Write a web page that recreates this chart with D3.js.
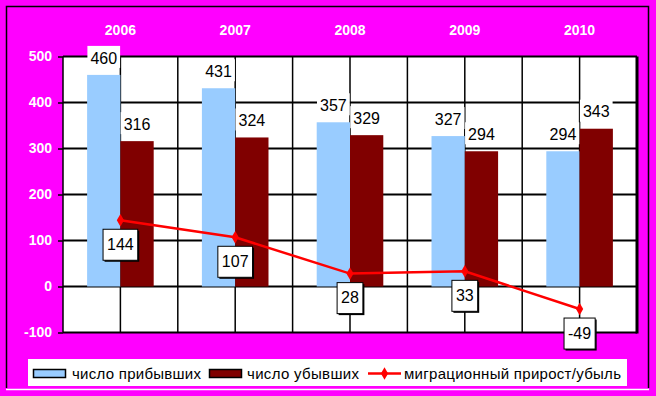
<!DOCTYPE html>
<html>
<head>
<meta charset="utf-8">
<script src="https://cdn.jsdelivr.net/npm/d3@7"></script>
<style>
  body { margin: 0; background: #ff00ff; }
  text { font-family: Arial, "Liberation Sans", sans-serif; }
</style>
</head>
<body>
<div id="chart"></div>
<script>
// chart data
var years = ["2006", "2007", "2008", "2009", "2010"];
var arrived = [460, 431, 357, 327, 294];
var departed = [316, 324, 329, 294, 343];
var netMigration = [144, 107, 28, 33, -49];
var yTicks = [-100, 0, 100, 200, 300, 400, 500];
var legendLabels = ["число прибывших", "число убывших", "миграционный прирост/убыль"];

var width = 656, height = 396;
var plot = { left: 63, right: 637, top: 56.5, bottom: 332.5 };

var svg = d3.select("#chart").append("svg")
    .attr("width", width)
    .attr("height", height);

svg.append("rect")
    .attr("width", width).attr("height", height)
    .attr("fill", "#ff00ff");

// outer frame (black on three sides, white bottom)
svg.append("path")
    .attr("d", "M6.5,388 L6.5,6.5 L648.5,6.5 L648.5,388")
    .attr("fill", "none").attr("stroke", "#000").attr("stroke-width", 1.5);
svg.append("line")
    .attr("x1", 6).attr("x2", 649).attr("y1", 389.5).attr("y2", 389.5)
    .attr("stroke", "#fff").attr("stroke-width", 1.5);

var x = d3.scaleBand().domain(years).range([plot.left, plot.right]);
var y = d3.scaleLinear().domain([-100, 500]).range([plot.bottom, plot.top]);
var bw = x.bandwidth() * 0.29;
var cx = function (yr) { return x(yr) + x.bandwidth() / 2; };

// plot area
svg.append("rect")
    .attr("x", plot.left).attr("y", plot.top)
    .attr("width", plot.right - plot.left).attr("height", plot.bottom - plot.top)
    .attr("fill", "#fff");

// vertical grid: category edges and centers
var vLines = [];
years.forEach(function (yr) { vLines.push(x(yr)); vLines.push(cx(yr)); });
svg.selectAll(".vgrid").data(vLines).enter().append("line")
    .attr("x1", function (d) { return d; }).attr("x2", function (d) { return d; })
    .attr("y1", plot.top).attr("y2", plot.bottom)
    .attr("stroke", "#000").attr("stroke-width", 1.5);

svg.selectAll(".hgrid").data(yTicks).enter().append("line")
    .attr("x1", plot.left).attr("x2", plot.right)
    .attr("y1", function (d) { return y(d); }).attr("y2", function (d) { return y(d); })
    .attr("stroke", "#000").attr("stroke-width", 2);

svg.append("line")
    .attr("x1", plot.right).attr("x2", plot.right)
    .attr("y1", plot.top).attr("y2", plot.bottom + 1)
    .attr("stroke", "#000").attr("stroke-width", 3);

// y axis
var yAxis = svg.append("g")
    .attr("transform", "translate(" + plot.left + ",0)")
    .call(d3.axisLeft(y).tickValues(yTicks).tickSize(5).tickPadding(6)
        .tickFormat(function (d) { return String(d); }));
yAxis.select(".domain").remove();
yAxis.selectAll(".tick line").attr("stroke", "#000").attr("stroke-width", 1.5);
yAxis.selectAll(".tick text")
    .attr("fill", "#fff").attr("font-size", 14).attr("font-weight", "bold")
    .attr("font-family", "Arial, 'Liberation Sans', sans-serif");

// year labels on top
svg.selectAll(".year").data(years).enter().append("text")
    .attr("x", function (d) { return cx(d); })
    .attr("y", 35)
    .attr("text-anchor", "middle")
    .attr("font-size", 14).attr("font-weight", "bold")
    .attr("fill", "#fff")
    .text(function (d) { return d; });

// bars
svg.selectAll(".barA").data(arrived).enter().append("rect")
    .attr("x", function (d, i) { return cx(years[i]) - bw; })
    .attr("y", function (d) { return y(d); })
    .attr("width", bw)
    .attr("height", function (d) { return y(0) - y(d); })
    .attr("fill", "#99ccff");

svg.selectAll(".barD").data(departed).enter().append("rect")
    .attr("x", function (d, i) { return cx(years[i]); })
    .attr("y", function (d) { return y(d); })
    .attr("width", bw)
    .attr("height", function (d) { return y(0) - y(d); })
    .attr("fill", "#800000");

// bar value labels on white boxes
function barLabel(values, dx) {
    values.forEach(function (v, i) {
        var lx = cx(years[i]) + dx, ly = y(v) - 17;
        var g = svg.append("g");
        var t = g.append("text")
            .attr("x", lx).attr("y", ly).attr("dy", "0.36em")
            .attr("text-anchor", "middle").attr("font-size", 16)
            .attr("fill", "#000").text(v);
        var w = t.node().getComputedTextLength() + 6;
        g.insert("rect", "text")
            .attr("x", lx - w / 2).attr("y", ly - 12)
            .attr("width", w).attr("height", 22)
            .attr("fill", "#fff");
    });
}
barLabel(arrived, -bw / 2);
barLabel(departed, bw / 2);

// migration line
var line = d3.line()
    .x(function (d, i) { return cx(years[i]); })
    .y(function (d) { return y(d); });

svg.append("path")
    .datum(netMigration)
    .attr("d", line)
    .attr("fill", "none").attr("stroke", "#ff0000").attr("stroke-width", 2.5);

svg.selectAll(".pt").data(netMigration).enter().append("path")
    .attr("d", d3.symbol(d3.symbolDiamond, 45))
    .attr("transform", function (d, i) { return "translate(" + cx(years[i]) + "," + y(d) + ")"; })
    .attr("fill", "#ff0000");

// line labels in bordered boxes
netMigration.forEach(function (v, i) {
    var lx = cx(years[i]), ly = y(v) + 24;
    var g = svg.append("g");
    var t = g.append("text")
        .attr("x", lx).attr("y", ly).attr("dy", "0.36em")
        .attr("text-anchor", "middle").attr("font-size", 16)
        .attr("fill", "#000").text(v);
    var w = t.node().getComputedTextLength() + 8;
    g.insert("rect", "text")
        .attr("x", lx - w / 2 + 1.5).attr("y", ly - 15 + 1.5)
        .attr("width", w).attr("height", 31)
        .attr("fill", "#000");
    g.insert("rect", "text")
        .attr("x", lx - w / 2).attr("y", ly - 15)
        .attr("width", w).attr("height", 31)
        .attr("fill", "#fff").attr("stroke", "#000").attr("stroke-width", 1);
});

// legend
var legend = svg.append("g");
legend.append("rect")
    .attr("x", 28).attr("y", 359).attr("width", 599).attr("height", 27)
    .attr("fill", "#fff");

legend.append("rect")
    .attr("x", 33.5).attr("y", 369.5).attr("width", 32).attr("height", 8)
    .attr("fill", "#99ccff").attr("stroke", "#000").attr("stroke-width", 1.5);
legend.append("text")
    .attr("x", 72).attr("y", 378.5).attr("font-size", 15)
    .attr("textLength", 129).attr("lengthAdjust", "spacing")
    .text(legendLabels[0]);

legend.append("rect")
    .attr("x", 209.5).attr("y", 369.5).attr("width", 32).attr("height", 8)
    .attr("fill", "#800000").attr("stroke", "#000").attr("stroke-width", 1.5);
legend.append("text")
    .attr("x", 247).attr("y", 378.5).attr("font-size", 15)
    .attr("textLength", 112).attr("lengthAdjust", "spacing")
    .text(legendLabels[1]);

legend.append("line")
    .attr("x1", 368).attr("x2", 401).attr("y1", 373.5).attr("y2", 373.5)
    .attr("stroke", "#ff0000").attr("stroke-width", 2.5);
legend.append("path")
    .attr("d", d3.symbol(d3.symbolDiamond, 45))
    .attr("transform", "translate(384.5,373.5)")
    .attr("fill", "#ff0000");
legend.append("text")
    .attr("x", 404).attr("y", 378.5).attr("font-size", 15)
    .attr("textLength", 217).attr("lengthAdjust", "spacing")
    .text(legendLabels[2]);
</script>
</body>
</html>
